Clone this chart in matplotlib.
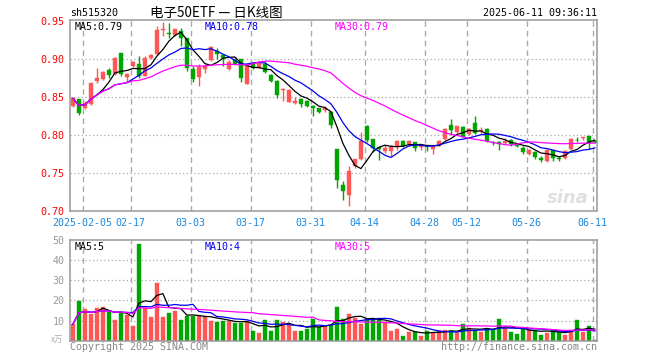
import numpy as np
import pandas as pd
import matplotlib
matplotlib.use("Agg")
import matplotlib.pyplot as plt

# ---------------- data ----------------
opens = [0.8377, 0.8478, 0.8360, 0.8412, 0.8710, 0.8732, 0.8855, 0.8798, 0.9075, 0.8763,
         0.8908, 0.8930, 0.8776, 0.9018, 0.9070, 0.9382, 0.9342, 0.9311, 0.9368, 0.9272,
         0.8864, 0.8763, 0.8864, 0.8982, 0.9105, 0.9053, 0.8864, 0.8982, 0.9004, 0.8675,
         0.8930, 0.8886, 0.8939, 0.8789, 0.8711, 0.8592, 0.8439, 0.8421, 0.8478, 0.8447,
         0.8382, 0.8351, 0.8333, 0.8303, 0.7820, 0.7346, 0.7215, 0.7588, 0.7689, 0.8114,
         0.7952, 0.7842, 0.7785, 0.7785, 0.7842, 0.7917, 0.7882, 0.7912, 0.7842, 0.7864,
         0.7816, 0.7860, 0.7947, 0.8136, 0.8044, 0.8110, 0.8013, 0.8158, 0.8057, 0.8079,
         0.7908, 0.7904, 0.7895, 0.7939, 0.7873, 0.7829, 0.7754, 0.7781, 0.7697, 0.7654,
         0.7798, 0.7697, 0.7697, 0.7816, 0.7939, 0.7956, 0.7982, 0.7917]
closes = [0.8482, 0.8294, 0.8417, 0.8689, 0.8754, 0.8829, 0.8789, 0.9018, 0.8798, 0.8807,
          0.8965, 0.8776, 0.9018, 0.9053, 0.9377, 0.9399, 0.9325, 0.9390, 0.9272, 0.8877,
          0.8741, 0.8899, 0.8908, 0.9158, 0.9061, 0.9018, 0.8965, 0.8930, 0.8754, 0.8908,
          0.8886, 0.8961, 0.8829, 0.8711, 0.8522, 0.8605, 0.8592, 0.8447, 0.8404, 0.8382,
          0.8360, 0.8307, 0.8351, 0.8132, 0.7403, 0.7259, 0.7522, 0.7689, 0.7917, 0.7939,
          0.7829, 0.7816, 0.7829, 0.7842, 0.7917, 0.7860, 0.7917, 0.7825, 0.7860, 0.7842,
          0.7860, 0.7917, 0.8083, 0.8061, 0.8114, 0.7974, 0.8079, 0.8026, 0.8070, 0.7917,
          0.7895, 0.7886, 0.7925, 0.7886, 0.7851, 0.7776, 0.7807, 0.7706, 0.7675, 0.7807,
          0.7697, 0.7684, 0.7785, 0.7947, 0.7930, 0.7978, 0.7895, 0.7905]
highs = [0.8500, 0.8478, 0.8450, 0.8689, 0.8886, 0.8842, 0.8877, 0.9026, 0.9075, 0.8820,
         0.8974, 0.9039, 0.9040, 0.9070, 0.9434, 0.9482, 0.9474, 0.9399, 0.9412, 0.9272,
         0.8908, 0.8930, 0.8930, 0.9171, 0.9149, 0.9061, 0.8982, 0.9026, 0.9004, 0.8930,
         0.8952, 0.8974, 0.8974, 0.8807, 0.8720, 0.8614, 0.8600, 0.8504, 0.8491, 0.8456,
         0.8395, 0.8360, 0.8382, 0.8311, 0.7820, 0.7390, 0.7588, 0.7689, 0.8035, 0.8127,
         0.7952, 0.7842, 0.7873, 0.7873, 0.7930, 0.7930, 0.7939, 0.7912, 0.7873, 0.7873,
         0.7860, 0.7939, 0.8092, 0.8215, 0.8123, 0.8120, 0.8092, 0.8254, 0.8105, 0.8092,
         0.7917, 0.7917, 0.7961, 0.7947, 0.7895, 0.7851, 0.7816, 0.7790, 0.7728, 0.7816,
         0.7807, 0.7719, 0.7798, 0.7956, 0.7969, 0.7978, 0.7982, 0.7925]
lows = [0.8368, 0.8259, 0.8340, 0.8395, 0.8689, 0.8720, 0.8754, 0.8790, 0.8780, 0.8697,
        0.8890, 0.8754, 0.8770, 0.8996, 0.9070, 0.9303, 0.9281, 0.9300, 0.9171, 0.8842,
        0.8697, 0.8645, 0.8820, 0.8974, 0.8996, 0.8908, 0.8851, 0.8921, 0.8697, 0.8667,
        0.8864, 0.8877, 0.8820, 0.8700, 0.8491, 0.8447, 0.8430, 0.8404, 0.8368, 0.8370,
        0.8250, 0.8290, 0.8307, 0.8088, 0.7303, 0.7149, 0.7070, 0.7566, 0.7675, 0.7904,
        0.7772, 0.7675, 0.7763, 0.7728, 0.7807, 0.7842, 0.7851, 0.7785, 0.7798, 0.7785,
        0.7754, 0.7850, 0.7939, 0.8004, 0.8026, 0.7970, 0.8004, 0.8013, 0.8013, 0.7905,
        0.7864, 0.7807, 0.7882, 0.7851, 0.7838, 0.7754, 0.7741, 0.7684, 0.7640, 0.7640,
        0.7654, 0.7662, 0.7684, 0.7807, 0.7904, 0.7939, 0.7820, 0.7895]
volumes = [8.2, 19.5, 15.5, 13.2, 16.0, 16.5, 14.2, 10.5, 13.8, 13.0,
           7.5, 48.2, 16.4, 11.8, 28.5, 12.0, 14.0, 14.5, 10.5, 12.5,
           12.5, 12.5, 12.2, 9.8, 9.4, 10.0, 9.7, 9.0, 9.0, 9.7,
           5.0, 4.0, 10.5, 5.0, 10.5, 9.5, 8.0, 5.0, 5.0, 6.0,
           11.0, 7.0, 7.5, 7.8, 16.5, 11.0, 13.5, 11.2, 8.5, 10.3,
           11.5, 11.5, 9.5, 5.0, 6.0, 2.5, 4.5, 4.5, 2.5, 5.0,
           4.0, 5.0, 5.5, 5.0, 4.0, 8.5, 6.5, 5.0, 4.5, 6.0,
           6.0, 11.0, 6.5, 4.5, 3.5, 6.5, 5.5, 5.0, 3.0, 4.0,
           5.5, 4.5, 3.0, 5.5, 10.5, 4.5, 7.5, 0.5]
date_tick_index = [2, 10, 20, 30, 40, 49, 59, 66, 76, 87]
date_tick_labels = ["2025-02-05", "02-17", "03-03", "03-17", "03-31",
                    "04-14", "04-28", "05-12", "05-26", "06-11"]
price_ticks = [0.70, 0.75, 0.80, 0.85, 0.90, 0.95]
vol_ticks = [10, 20, 30, 40, 50]

# ---------------- style ----------------
RED = "#ff5656"
GREEN = "#00a600"
GRID = "#aaaaaa"
FRAME = "#999999"
MONO = "DejaVu Sans Mono"
FS = 7.2
W, H = 660, 360

o = np.array(opens); c = np.array(closes)
h = np.array(highs); l = np.array(lows)
v = np.array(volumes)
x = np.arange(len(o))
up = c >= o
cols = np.where(up, RED, GREEN)

fig = plt.figure(figsize=(W / 100, H / 100), dpi=100)
fig.patch.set_facecolor("white")

def fx(px):
    return px / W

def fy(py):
    return 1 - py / H

xl = (-0.48, 87.35)
axp = fig.add_axes([fx(70), fy(211), fx(597) - fx(70), fy(20) - fy(211)])
axv = fig.add_axes([fx(70), fy(340.7), fx(597) - fx(70), fy(240) - fy(340.7)])

for ax in (axp, axv):
    ax.set_xlim(*xl)
    for s in ax.spines.values():
        s.set_color(FRAME)
        s.set_linewidth(1.1)
    ax.tick_params(length=0)
    for t in date_tick_index:
        ax.axvline(t - 0.37, color=GRID, lw=1.0, ls=(0, (4, 3)), zorder=0)

# price panel
axp.set_ylim(0.70, 0.9513)
for p in price_ticks[1:-1]:
    axp.axhline(p, color=GRID, lw=0.9, ls=(0, (1, 2)), zorder=0)
axp.vlines(x, l, h, colors=cols, lw=1.0, zorder=2)
body_bottom = np.minimum(o, c)
body_h = np.maximum(np.abs(c - o), 0.0009)
axp.bar(x, body_h, bottom=body_bottom, width=0.78, color=cols, edgecolor=cols,
        linewidth=0.3, zorder=3)
cs = pd.Series(c)
axp.plot(x, cs.rolling(5, min_periods=1).mean(), color="black", lw=0.9, zorder=4)
axp.plot(x, cs.rolling(10, min_periods=1).mean(), color="#0000ee", lw=0.9, zorder=4)
axp.plot(x, cs.rolling(30, min_periods=1).mean(), color="#ff00ff", lw=0.9, zorder=4)
axp.set_yticks(price_ticks)
axp.set_yticklabels([f"{p:.2f}" for p in price_ticks], color="#ff0000",
                    fontfamily=MONO, fontsize=FS)
axp.tick_params(axis="y", pad=4)
axp.set_xticks([t - 0.37 for t in date_tick_index])
axp.set_xticklabels(date_tick_labels, color="#1a88e0", fontfamily=MONO, fontsize=FS)
axp.tick_params(axis="x", pad=5)

# watermark
axp.text(0.985, 0.07, "sina", transform=axp.transAxes, ha="right", va="center",
         fontsize=13, fontstyle="italic", fontweight="bold", color="#e0e0e0", zorder=1)

# volume panel
axv.set_ylim(0, 50)
for t in vol_ticks[:-1]:
    axv.axhline(t, color=GRID, lw=0.9, ls=(0, (1, 2)), zorder=0)
axv.bar(x, v, width=0.78, color=cols, edgecolor=cols, linewidth=0.3, zorder=2)
vs = pd.Series(v)
axv.plot(x, vs.rolling(5, min_periods=1).mean(), color="black", lw=0.9, zorder=4)
axv.plot(x, vs.rolling(10, min_periods=1).mean(), color="#0000ee", lw=0.9, zorder=4)
axv.plot(x, vs.rolling(30, min_periods=1).mean(), color="#ff00ff", lw=0.9, zorder=4)
axv.set_yticks(vol_ticks)
axv.set_yticklabels([str(t) for t in vol_ticks], color="#999999",
                    fontfamily=MONO, fontsize=FS)
axv.tick_params(axis="y", pad=4)
axv.set_xticks([])

# texts
fig.text(fx(70), fy(13), "sh515320", ha="left", va="center", fontfamily=MONO,
         fontsize=FS, color="black")
fig.text(fx(216), fy(12.5), "电子50ETF — 日K线图", ha="center", va="center",
         family=["Noto Sans CJK SC", "DejaVu Sans"], fontsize=9.7, color="black")
fig.text(fx(597), fy(13), "2025-06-11 09:36:11", ha="right", va="center",
         fontfamily=MONO, fontsize=FS, color="black")

fig.text(fx(75), fy(26.5), "MA5:0.79", ha="left", va="center", fontfamily=MONO,
         fontsize=FS, color="black")
fig.text(fx(205), fy(26.5), "MA10:0.78", ha="left", va="center", fontfamily=MONO,
         fontsize=FS, color="#0000ee")
fig.text(fx(335), fy(26.5), "MA30:0.79", ha="left", va="center", fontfamily=MONO,
         fontsize=FS, color="#ff00ff")

fig.text(fx(75), fy(246.5), "MA5:5", ha="left", va="center", fontfamily=MONO,
         fontsize=FS, color="black")
fig.text(fx(205), fy(246.5), "MA10:4", ha="left", va="center", fontfamily=MONO,
         fontsize=FS, color="#0000ee")
fig.text(fx(335), fy(246.5), "MA30:5", ha="left", va="center", fontfamily=MONO,
         fontsize=FS, color="#ff00ff")

fig.text(fx(63), fy(339.5), "x万", ha="right", va="center",
         family=["Noto Sans CJK SC", "DejaVu Sans"], fontsize=6, color="#aaaaaa")
fig.text(fx(70), fy(346.5), "Copyright 2025 SINA.COM", ha="left", va="center",
         fontfamily=MONO, fontsize=FS, color="#888888")
fig.text(fx(597), fy(346.5), "http://finance.sina.com.cn", ha="right", va="center",
         fontfamily=MONO, fontsize=FS, color="#888888")

fig.savefig("out.png", dpi=100, facecolor="white")
